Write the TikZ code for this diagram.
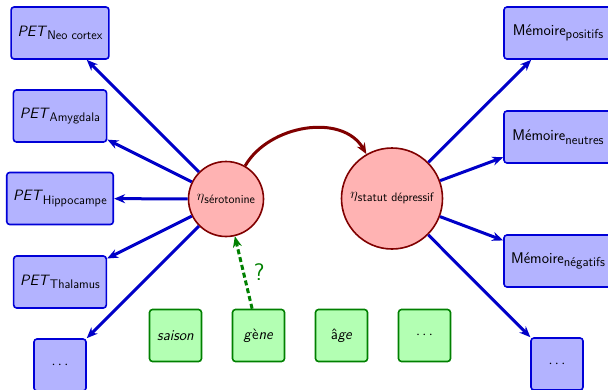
\documentclass[tikz,border=0pt]{standalone}
\usetikzlibrary{arrows.meta}

\definecolor{boxfill}{RGB}{179,179,255}
\definecolor{boxedge}{RGB}{0,0,215}
\definecolor{linkblue}{RGB}{0,0,200}
\definecolor{latentfill}{RGB}{255,179,179}
\definecolor{latentedge}{RGB}{128,0,0}
\definecolor{factorfill}{RGB}{179,255,179}
\definecolor{factoredge}{RGB}{0,128,0}

% lowered, smaller label text used as an index
\newcommand\idx[1]{\raisebox{-3.5pt}{\fontsize{12.5}{14}\selectfont #1}}
\newcommand\midx[1]{\raisebox{-3.5pt}{\fontsize{13}{14}\selectfont #1}}
\newcommand\cidx[1]{\raisebox{-3pt}{\fontsize{12.2}{14}\selectfont #1}}

\tikzset{
  every node/.style={font=\sffamily\fontsize{15}{18}\selectfont},
  measure/.style={draw=boxedge, fill=boxfill, line width=1.6pt, rounded corners=3pt,
    minimum width=52pt, minimum height=52pt, inner xsep=6.5pt},
  memory/.style={measure, minimum width=108pt, font=\sffamily\fontsize{15.5}{18}\selectfont},
  factor/.style={measure, draw=factoredge, fill=factorfill},
  latent/.style={circle, draw=latentedge, fill=latentfill, line width=1.6pt, inner sep=0pt,
    font=\sffamily\fontsize{14}{16}\selectfont},
  link/.style={linkblue, line width=3pt, -{Stealth[length=11pt,width=9pt]}},
  causal/.style={latentedge, line width=3pt, -{Stealth[length=11pt,width=9pt]}},
  hint/.style={factoredge, line width=3pt, dash pattern=on 5pt off 3pt,
    -{Stealth[length=11pt,width=9pt]}},
}

\begin{document}
\begin{tikzpicture}[x=1pt, y=-1pt]
  \path[use as bounding box, clip] (0,0) rectangle (608,389);

  % measures linked to serotonin
  \node[measure] (neo) at (60,33)    {\textit{PET}\idx{Neo cortex}};
  \node[measure] (amy) at (60,116)   {\textit{PET}\idx{Amygdala}};
  \node[measure] (hip) at (60,198.5) {\textit{PET}\idx{Hippocampe}};
  \node[measure] (tha) at (60,282)   {\textit{PET}\idx{Thalamus}};
  \node[measure] (ldots) at (60,365) {$\cdots$};

  % measures linked to depressive status
  \node[memory] (pos) at (558,33)   {Mémoire\midx{positifs}};
  \node[memory] (neu) at (558,137)  {Mémoire\midx{neutres}};
  \node[memory] (neg) at (558,261)  {Mémoire\midx{négatifs}};
  \node[measure] (rdots) at (557,364) {$\cdots$};

  % latent variables
  \node[latent, minimum size=75pt]  (sero)   at (226,199) {$\eta$\cidx{sérotonine}};
  \node[latent, minimum size=101pt] (statut) at (392,198.5) {$\eta$\cidx{statut dépressif}};

  % covariates
  \node[factor] (saison) at (175.5,335.5) {\textit{saison}};
  \node[factor] (gene)   at (258.5,335.5) {\textit{g}è\textit{ne}};
  \node[factor] (age)    at (341.5,335.5) {â\textit{ge}};
  \node[factor] (fdots)  at (424.5,335.5) {$\cdots$};

  % connectors
  \foreach \t in {neo,amy,hip,tha,ldots} \draw[link] (sero) -- (\t);
  \foreach \t in {pos,neu,neg,rdots} \draw[link] (statut) -- (\t);
  \draw[causal] (sero) to[out=60,in=120] (statut);
  \draw[hint] (gene) -- node[anchor=west, inner sep=0pt, xshift=9pt, text=factoredge,
    font=\sffamily\fontsize{24}{26}\selectfont] {?} (sero);
\end{tikzpicture}
\end{document}
